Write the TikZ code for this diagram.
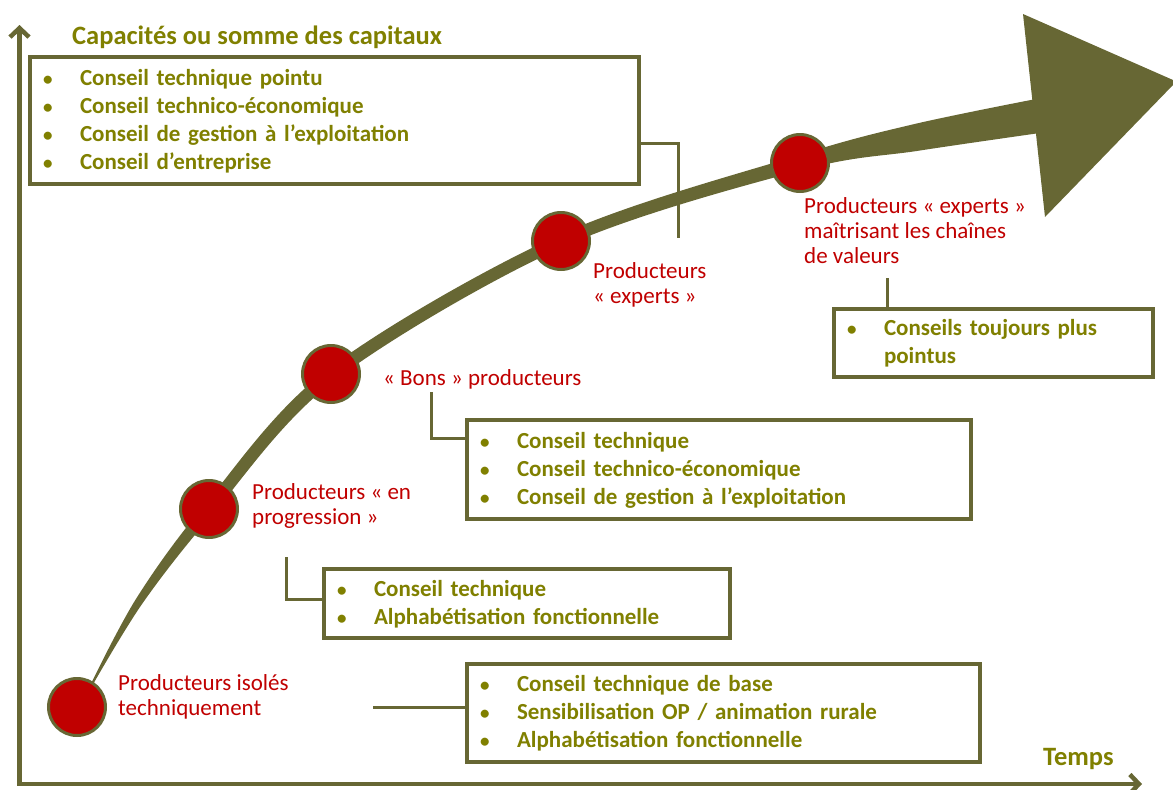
\documentclass[tikz,border=0pt]{standalone}
\usepackage{fontspec}
\setmainfont{Carlito}
\usetikzlibrary{arrows.meta}
\definecolor{olivedark}{RGB}{103,103,52}
\definecolor{olivetext}{RGB}{128,128,0}
\definecolor{stagered}{RGB}{192,0,0}
% bullet column, and struts that even out the first and last line of a box
\newcommand\bul{\makebox[37pt][l]{\fontsize{19}{28}\selectfont •}}
\newcommand\fstrut{\rule{0pt}{20pt}}
\newcommand\lstrut{\rule[-7pt]{0pt}{7pt}}
\begin{document}
\begin{tikzpicture}[x=1pt,y=-1pt,
  axis/.style={draw=olivedark, line width=4.5pt, line join=miter},
  link/.style={draw=olivedark, line width=3pt},
  infobox/.style={draw=olivedark, line width=3.5pt, fill=white, anchor=north west,
    align=left, inner xsep=13pt, inner ysep=0pt, outer sep=0pt, text=olivetext,
    font=\fontsize{23}{28}\selectfont\bfseries},
  stage/.style={circle, draw=olivedark, fill=stagered, line width=3pt,
    minimum size=57pt, inner sep=0pt},
  stagelabel/.style={anchor=base west, align=left, inner sep=0pt, text=stagered,
    font=\fontsize{23}{25}\selectfont},
  axislabel/.style={anchor=base west, inner sep=0pt, text=olivetext,
    font=\fontsize{26.5}{30}\selectfont\bfseries},
]
\useasboundingbox (0,0) rectangle (1173,790);

% axes
\coordinate (ytop) at (19.5,25);
\coordinate (origin) at (19.5,784);
\coordinate (xend) at (1142,784);
\draw[axis, {Straight Barb[length=9pt,width=19pt]}-{Straight Barb[length=9pt,width=19pt]}]
  (ytop) -- (origin) -- (xend);
\node[axislabel] (ylab) at (72,44) {Capacités ou somme des capitaux};
\node[axislabel] (xlab) at (1043,765) {Temps};

% tapered growth arrow
\fill[olivedark]
  plot[smooth, tension=0.55] coordinates {(91.1,683.5) (136.7,597.8) (204.4,505.1)
    (327.1,369.8) (558.4,235.4) (797.1,155.7) (913.3,124.3) (1036,99)}
  -- plot[smooth, tension=0.55] coordinates {(1040,133) (918.7,150.7) (800.9,170.3)
    (563.6,246.6) (334.9,380.2) (213.6,512.9) (143.3,602.2) (92.9,684.5)}
  -- cycle;
\fill[olivedark] (1023,14) -- (1176.4,81.5) -- (1045,217) -- cycle;

% advice boxes
\node[infobox, text width=583pt, minimum height=127pt] (topbox) at (30,57)
  {\bul\fstrut Conseil technique pointu\\ \bul Conseil technico-économique\\
   \bul Conseil de gestion à l’exploitation\\ \bul Conseil d’entreprise\lstrut};
\node[infobox, text width=293pt, minimum height=68pt] (rbox) at (834,309)
  {\bul\fstrut Conseils toujours plus\\ \hspace*{37pt}pointus\lstrut};
\node[infobox, text width=478pt, minimum height=99pt] (midbox) at (467,420)
  {\bul\fstrut Conseil technique\\ \bul Conseil technico-économique\\
   \bul Conseil de gestion à l’exploitation\lstrut};
\node[infobox, text width=380pt, minimum height=69pt] (lowbox) at (324,569)
  {\bul\fstrut Conseil technique\\ \bul Alphabétisation fonctionnelle\lstrut};
\node[infobox, text width=487pt, minimum height=98pt] (basebox) at (467,664)
  {\bul\fstrut Conseil technique de base\\ \bul Sensibilisation OP / animation rurale\\
   \bul Alphabétisation fonctionnelle\lstrut};

% connectors from the stages to their boxes
\coordinate (k1) at (678,143);
\coordinate (k2) at (678,238);
\draw[link] (k1 -| topbox.east) -- (k1) -- (k2);
\coordinate (k3) at (887,278);
\draw[link] (k3) -- (k3 |- rbox.north);
\coordinate (k4) at (431,392);
\coordinate (k5) at (431,438);
\draw[link] (k4) -- (k5) -- (k5 -| midbox.west);
\coordinate (k6) at (286,557);
\coordinate (k7) at (286,599);
\draw[link] (k6) -- (k7) -- (k7 -| lowbox.west);
\coordinate (k8) at (373,707);
\draw[link] (k8) -- (k8 -| basebox.west);

% stages
\node[stage] (c1) at (77,707) {};
\node[stage] (c2) at (209,509) {};
\node[stage] (c3) at (331,374) {};
\node[stage] (c4) at (561,241) {};
\node[stage] (c5) at (800,163) {};

% stage labels (anchored on the baseline of their last line)
\node[stagelabel] (l1) at (118,715) {Producteurs isolés\\techniquement};
\node[stagelabel] (l2) at (252,524) {Producteurs «~en\\progression~»};
\node[stagelabel] (l3) at (383,385) {«~Bons~» producteurs};
\node[stagelabel] (l4) at (593,303) {Producteurs\\«~experts~»};
\node[stagelabel] (l5) at (804,263) {Producteurs «~experts~»\\maîtrisant les chaînes\\de valeurs};
\end{tikzpicture}
\end{document}
